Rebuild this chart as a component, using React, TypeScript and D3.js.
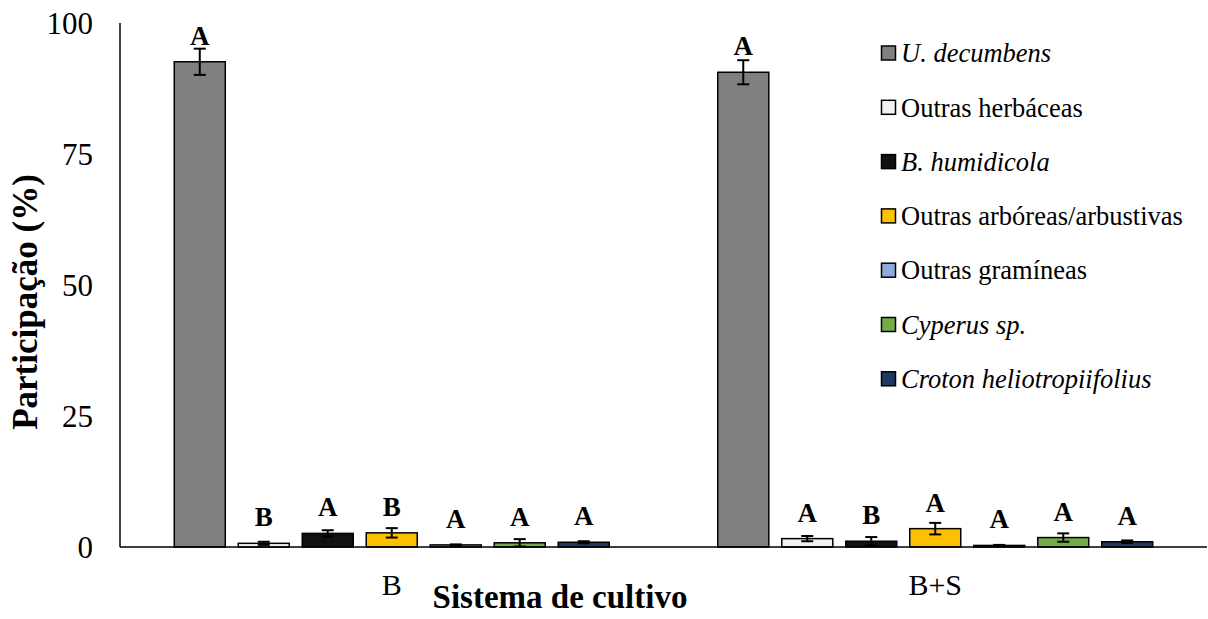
import React from "react";
import * as d3 from "d3";

const groups = ["B", "B+S"];
const series = [
  "U. decumbens",
  "Outras herbáceas",
  "B. humidicola",
  "Outras arbóreas/arbustivas",
  "Outras gramíneas",
  "Cyperus sp.",
  "Croton heliotropiifolius",
];
const seriesItalic = [true, false, true, false, false, true, true];
const seriesColors = ["#808080", "#f2f2f2", "#111111", "#ffc000", "#8faadc", "#70ad47", "#203864"];

const valuesB = [92.6, 0.7, 2.6, 2.7, 0.4, 0.8, 0.9];
const errorsB = [2.5, 0.3, 0.6, 0.9, 0.1, 0.7, 0.2];
const lettersB = ["A", "B", "A", "B", "A", "A", "A"];

const valuesBS = [90.6, 1.6, 1.1, 3.5, 0.3, 1.8, 1.0];
const errorsBS = [2.3, 0.5, 0.8, 1.1, 0.1, 0.8, 0.25];
const lettersBS = ["A", "A", "B", "A", "A", "A", "A"];

const yTicks = [0, 25, 50, 75, 100];

const groupValues = [valuesB, valuesBS];
const groupErrors = [errorsB, errorsBS];
const groupLetters = [lettersB, lettersBS];

const W = 1208;
const H = 619;
const FONT = "Liberation Serif, Times New Roman, serif";

export default function App() {
  const x0 = d3.scaleBand<string>().domain(groups).range([120, 1207]).padding(0);
  const x1 = d3
    .scaleBand<string>()
    .domain(series)
    .range([0, x0.bandwidth()])
    .paddingInner(0.203)
    .paddingOuter(0.848);
  const y = d3.scaleLinear().domain([0, 100]).range([547, 23]);

  const legendY0 = 53;
  const legendStep = 54.3;

  return (
    <svg
      width={W}
      height={H}
      style={{ position: "absolute", left: 0, top: 0, background: "#fff", fontFamily: FONT }}
    >
      {/* bars */}
      {groups.map((g, gi) =>
        series.map((s, si) => {
          const v = groupValues[gi][si];
          const e = groupErrors[gi][si];
          const bx = (x0(g) as number) + (x1(s) as number);
          const bw = x1.bandwidth();
          const cx = bx + bw / 2;
          return (
            <g key={g + s}>
              <rect
                x={bx}
                y={y(v)}
                width={bw}
                height={y(0) - y(v)}
                fill={seriesColors[si]}
                stroke="#000"
                strokeWidth={1.5}
              />
              <line x1={cx} x2={cx} y1={y(v + e)} y2={y(Math.max(0, v - e))} stroke="#000" strokeWidth={2} />
              <line x1={cx - 6} x2={cx + 6} y1={y(v + e)} y2={y(v + e)} stroke="#000" strokeWidth={2} />
              <line
                x1={cx - 6}
                x2={cx + 6}
                y1={y(Math.max(0, v - e))}
                y2={y(Math.max(0, v - e))}
                stroke="#000"
                strokeWidth={2}
              />
              <text
                x={cx}
                y={y(v) - 17}
                textAnchor="middle"
                fontWeight="bold"
                fontSize={27}
                fill="#000"
              >
                {groupLetters[gi][si]}
              </text>
            </g>
          );
        })
      )}

      {/* axes */}
      <line x1={120} x2={120} y1={y(100)} y2={y(0)} stroke="#000" strokeWidth={1.5} />
      <line x1={120} x2={1207} y1={y(0)} y2={y(0)} stroke="#000" strokeWidth={1.5} />

      {yTicks.map((t) => (
        <text key={t} x={93} y={y(t)} dy="0.35em" textAnchor="end" fontSize={31} fill="#000">
          {t}
        </text>
      ))}

      {groups.map((g) => (
        <text
          key={g}
          x={(x0(g) as number) + x0.bandwidth() / 2}
          y={595}
          textAnchor="middle"
          fontSize={30}
          fill="#000"
        >
          {g}
        </text>
      ))}

      <text x={560} y={608} textAnchor="middle" fontSize={33} fontWeight="bold" fill="#000">
        Sistema de cultivo
      </text>
      <text
        transform={`translate(37, 302) rotate(-90)`}
        textAnchor="middle"
        fontSize={35}
        fontWeight="bold"
        fill="#000"
      >
        Participação (%)
      </text>

      {/* legend */}
      {series.map((s, si) => {
        const cy = legendY0 + si * legendStep;
        return (
          <g key={s}>
            <rect x={881.5} y={cy - 7} width={14} height={14} fill={seriesColors[si]} stroke="#000" strokeWidth={1.5} />
            <text
              x={901}
              y={cy}
              dy="0.35em"
              fontSize={26.5}
              fontStyle={seriesItalic[si] ? "italic" : "normal"}
              fill="#000"
            >
              {s}
            </text>
          </g>
        );
      })}
    </svg>
  );
}
